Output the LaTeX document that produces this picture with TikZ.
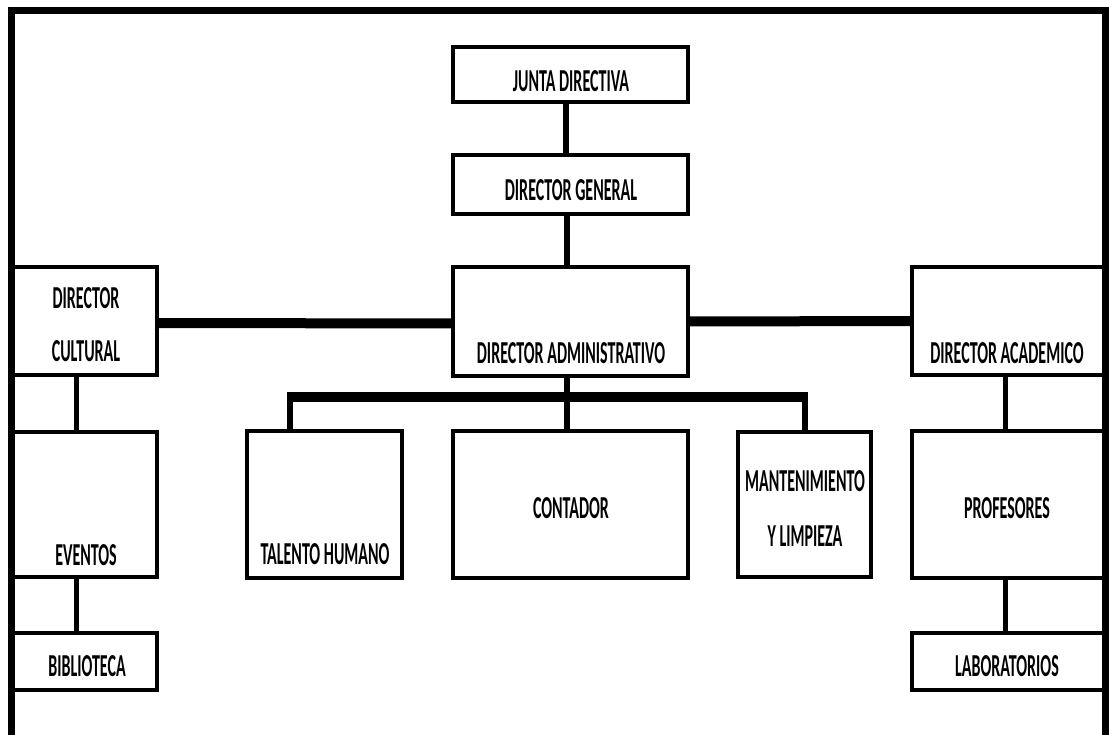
\documentclass[tikz,border=0pt]{standalone}
\usepackage{fontspec}
\newfontfamily\orgfont{Carlito}[FakeStretch=0.5]
\begin{document}
\begin{tikzpicture}[x=1pt,y=-1pt,
    box/.style={draw,line width=4.5pt,inner sep=0pt,outer sep=0pt},
    lbl/.style={inner sep=0pt,text height=20.5pt,text depth=0pt,
        font=\orgfont\bfseries\fontsize{32}{34}\selectfont},
    link/.style={line width=6pt},
    hbar/.style={line width=10pt}]
    \useasboundingbox (0,0) rectangle (1109,735);
    \draw [line width=7pt] (11.5,10.5) rectangle (1105,738);
    % boxes
    \node [box,minimum width=235pt,minimum height=55pt] (jd) at (570.5,74.5) {};
    \node [box,minimum width=235pt,minimum height=59pt] (dg) at (570.5,184.5) {};
    \node [box,minimum width=235pt,minimum height=109pt] (da) at (570.5,321.5) {};
    \node [box,minimum width=145pt,minimum height=108pt] (dc) at (84.5,321) {};
    \node [box,minimum width=192pt,minimum height=108pt] (dac) at (1008,321) {};
    \node [box,minimum width=145pt,minimum height=145pt] (ev) at (84.5,504.5) {};
    \node [box,minimum width=145pt,minimum height=57pt] (bib) at (84.5,661.5) {};
    \node [box,minimum width=155pt,minimum height=147pt] (th) at (324.5,504.5) {};
    \node [box,minimum width=235pt,minimum height=147pt] (con) at (570.5,504.5) {};
    \node [box,minimum width=133pt,minimum height=145pt] (mant) at (804.5,504.5) {};
    \node [box,minimum width=192pt,minimum height=147pt] (prof) at (1008,504.5) {};
    \node [box,minimum width=192pt,minimum height=57pt] (lab) at (1008,661.5) {};
    % texts
    \node [lbl] (jd-t) at (571,81) {JUNTA DIRECTIVA};
    \node [lbl] (dg-t) at (571,190) {DIRECTOR GENERAL};
    \node [lbl] (da-t) at (571,353) {DIRECTOR ADMINISTRATIVO};
    \node [lbl] (dc-t1) at (86,298) {DIRECTOR};
    \node [lbl] (dc-t2) at (86,351) {CULTURAL};
    \node [lbl] (dac-t) at (1007,353) {DIRECTOR ACADEMICO};
    \node [lbl] (ev-t) at (86,555) {EVENTOS};
    \node [lbl] (bib-t) at (87,666) {BIBLIOTECA};
    \node [lbl] (th-t) at (325,554) {TALENTO HUMANO};
    \node [lbl] (con-t) at (571,508) {CONTADOR};
    \node [lbl] (mant-t1) at (805,481) {MANTENIMIENTO};
    \node [lbl] (mant-t2) at (805,536) {Y LIMPIEZA};
    \node [lbl] (prof-t) at (1007,508) {PROFESORES};
    \node [lbl] (lab-t) at (1007,666) {LABORATORIOS};
    % connectors
    \coordinate (bus) at (567,397);
    \draw [link] ([xshift=-4.5pt]jd.south) -- ([xshift=-4.5pt]dg.north);
    \draw [link] ([xshift=-3.5pt]dg.south) -- ([xshift=-3.5pt]da.north);
    \draw [hbar] ([yshift=-2pt]dc.east) -- ([yshift=-2pt]da.west);
    \draw [hbar] (da.east) -- (dac.west);
    \draw [link] ([xshift=-3.5pt]da.south) -- ([xshift=-3.5pt]con.north);
    \draw [hbar,shorten <=-3pt,shorten >=-3pt] ([xshift=-34.5pt]th.north |- bus) -- (mant.north |- bus);
    \draw [link] ([xshift=-34.5pt]th.north |- bus) -- ([xshift=-34.5pt]th.north);
    \draw [link] (mant.north |- bus) -- (mant.north);
    \draw [link,line width=5pt] ([xshift=-8.5pt]dc.south) -- ([xshift=-8.5pt]ev.north);
    \draw [link,line width=5pt] ([xshift=-8.5pt]ev.south) -- ([xshift=-8.5pt]bib.north);
    \draw [link,line width=5pt] ([xshift=-2.5pt]dac.south) -- ([xshift=-2.5pt]prof.north);
    \draw [link,line width=5pt] ([xshift=-2.5pt]prof.south) -- ([xshift=-2.5pt]lab.north);
\end{tikzpicture}
\end{document}
